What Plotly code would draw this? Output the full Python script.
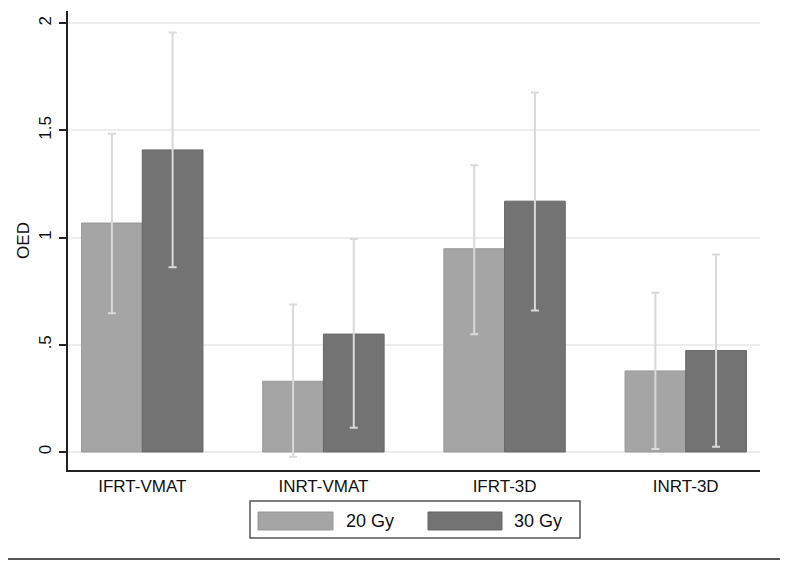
import plotly.graph_objects as go

categories = ["IFRT-VMAT", "INRT-VMAT", "IFRT-3D", "INRT-3D"]
series_names = ["20 Gy", "30 Gy"]
mean_20 = [1.068, 0.330, 0.948, 0.378]
upper_20 = [1.484, 0.688, 1.337, 0.743]
lower_20 = [0.647, -0.022, 0.549, 0.014]
mean_30 = [1.409, 0.550, 1.170, 0.473]
upper_30 = [1.957, 0.994, 1.677, 0.921]
lower_30 = [0.862, 0.113, 0.660, 0.025]
y_tickvals = [0, 0.5, 1, 1.5, 2]
y_ticktext = ["0", ".5", "1", "1.5", "2"]

colors = ["#a5a5a5", "#737373"]
edges = ["#989898", "#666666"]
FONT = "Liberation Sans, Arial, sans-serif"

fig = go.Figure()
for name, m, up, lo, c, e in [
    (series_names[0], mean_20, upper_20, lower_20, colors[0], edges[0]),
    (series_names[1], mean_30, upper_30, lower_30, colors[1], edges[1]),
]:
    fig.add_trace(go.Bar(
        x=categories, y=m, name=name,
        marker=dict(color=c, line=dict(color=e, width=1)),
        error_y=dict(type="data", symmetric=False,
                     array=[u - v for u, v in zip(up, m)],
                     arrayminus=[v - l for v, l in zip(m, lo)],
                     color="#d9d9d9", thickness=2, width=4),
        showlegend=False,
    ))

# page has an 8px body margin: shift everything by -8
OFF = 8
FW, FH = 788 - OFF, 561 - OFF
L, R, T, B = 68 - OFF, 760 - OFF, 11 - OFF, 470 - OFF
W, H = R - L, B - T
def px(x):
    return (x - OFF - L) / W
def py(y):
    return (B - (y - OFF)) / H

shapes = [
    dict(type="rect", xref="paper", yref="paper", x0=px(250), x1=px(580), y0=py(538), y1=py(501),
         line=dict(color="#555555", width=1.5), fillcolor="white"),
    dict(type="rect", xref="paper", yref="paper", x0=px(258), x1=px(333), y0=py(530), y1=py(512),
         line=dict(color=edges[0], width=1), fillcolor=colors[0]),
    dict(type="rect", xref="paper", yref="paper", x0=px(428), x1=px(502), y0=py(530), y1=py(512),
         line=dict(color=edges[1], width=1), fillcolor=colors[1]),
    dict(type="line", xref="paper", yref="paper", x0=px(8), x1=px(788), y0=py(559), y1=py(559),
         line=dict(color="#555555", width=2)),
]
annotations = [
    dict(xref="paper", yref="paper", x=px(344), y=py(521), text=series_names[0], showarrow=False,
         xanchor="left", yanchor="middle", font=dict(family=FONT, size=18, color="#111")),
    dict(xref="paper", yref="paper", x=px(512), y=py(521), text=series_names[1], showarrow=False,
         xanchor="left", yanchor="middle", font=dict(family=FONT, size=18, color="#111")),
]

fig.update_layout(
    width=FW, height=FH,
    margin=dict(l=L, r=FW - R, t=T, b=FH - B),
    paper_bgcolor="white", plot_bgcolor="white",
    barmode="group", bargap=0.33, bargroupgap=0,
    font=dict(family=FONT, color="#111"),
    shapes=shapes, annotations=annotations,
    xaxis=dict(range=[-0.41, 3.41], showline=True, linecolor="#222", linewidth=2,
               ticks="", showgrid=False, tickfont=dict(size=17, color="#111"),
               ticklabelstandoff=0),
    yaxis=dict(range=[-0.084, 2.057], tickvals=y_tickvals, ticktext=y_ticktext,
               tickangle=-90, ticks="outside", ticklen=7, tickwidth=1.5, tickcolor="#222",
               showline=True, linecolor="#222", linewidth=2,
               showgrid=True, gridcolor="#ededed", gridwidth=1.5,
               zeroline=True, zerolinecolor="#ededed", zerolinewidth=1.5,
               tickfont=dict(size=17, color="#111"), ticklabelstandoff=1,
               title=dict(text="OED", font=dict(size=17, color="#111"), standoff=2)),
)

fig.write_html("out.html")
